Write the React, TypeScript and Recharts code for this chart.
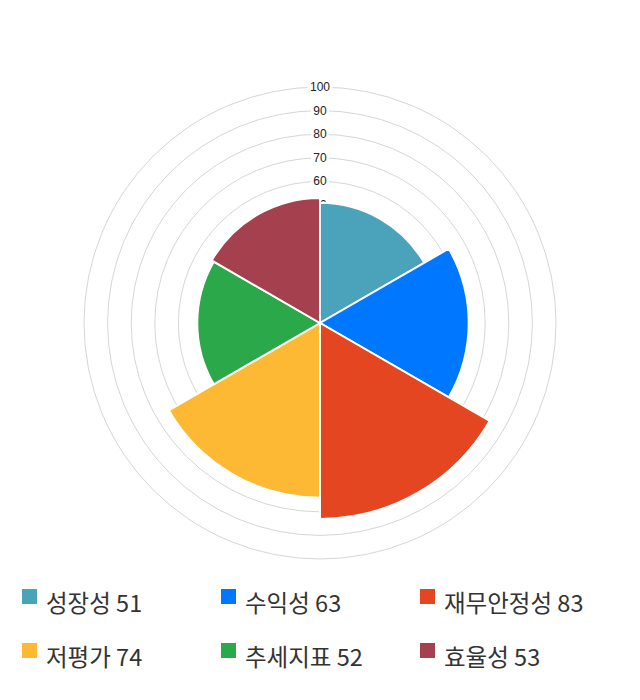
import { RadialBarChart, RadialBar, PolarGrid, PolarAngleAxis, PolarRadiusAxis, Cell } from 'recharts';

// 투자 지표 점수 (polar area)
const categories = ['성장성', '수익성', '재무안정성', '저평가', '추세지표', '효율성'];
const scores = [51, 63, 83, 74, 52, 53];
const colors = ['#4aa3ba', '#0077ff', '#e34620', '#fdb933', '#2ba84a', '#a5404f'];
const radiusTicks = [0, 10, 20, 30, 40, 50, 60, 70, 80, 90, 100];

const data = categories.map((name, i) => ({ name, value: scores[i] }));

const RadiusTick = (props: any) => {
    const { x, y, payload } = props;
    const label = String(payload.value);
    const w = label.length * 7 + 4;
    return (
        <g>
            <rect x={x - w / 2} y={y - 7} width={w} height={14} fill="#fff" />
            <text x={x} y={y} dy={4} textAnchor="middle" fontSize={12} fill="#222" fontFamily="'Liberation Sans', Arial, sans-serif">
                {label}
            </text>
        </g>
    );
};

export default function App() {
    return (
        <div style={{ position: 'absolute', left: 0, top: 0, width: 640, height: 700, background: '#fff' }}>
            <RadialBarChart
                width={640}
                height={560}
                data={data}
                cx={320}
                cy={323}
                innerRadius={0}
                outerRadius={236}
                startAngle={30}
                endAngle={-330}
                layout="centric"
                barCategoryGap={0}
                margin={{ top: 0, right: 0, bottom: 0, left: 0 }}
            >
                <PolarGrid gridType="circle" radialLines={false} stroke="#d6d6d6" />
                <PolarAngleAxis type="category" dataKey="name" tick={false} axisLine={false} />
                <PolarRadiusAxis type="number" domain={[0, 100]} ticks={radiusTicks} angle={90} axisLine={false} tickLine={false} tick={<RadiusTick />} zIndex={-50} />
                <RadialBar dataKey="value" isAnimationActive={false} stroke="#fff" strokeWidth={2}>
                    {data.map((entry, index) => (
                        <Cell key={`cell-${index}`} fill={colors[index]} />
                    ))}
                </RadialBar>
            </RadialBarChart>
            {data.map((entry, i) => (
                <div key={entry.name}>
                    <span
                        style={{
                            position: 'absolute',
                            left: 22 + (i % 3) * 199,
                            top: 589 + Math.floor(i / 3) * 54,
                            width: 15,
                            height: 15,
                            background: colors[i],
                        }}
                    />
                    <span
                        style={{
                            position: 'absolute',
                            left: 46 + (i % 3) * 199,
                            top: 591 + Math.floor(i / 3) * 54,
                            fontFamily: "'Noto Sans CJK KR', 'Noto Sans', sans-serif",
                            fontSize: 23.5,
                            lineHeight: '23px',
                            color: '#333',
                            whiteSpace: 'nowrap',
                        }}
                    >
                        {`${entry.name} ${entry.value}`}
                    </span>
                </div>
            ))}
        </div>
    );
}
